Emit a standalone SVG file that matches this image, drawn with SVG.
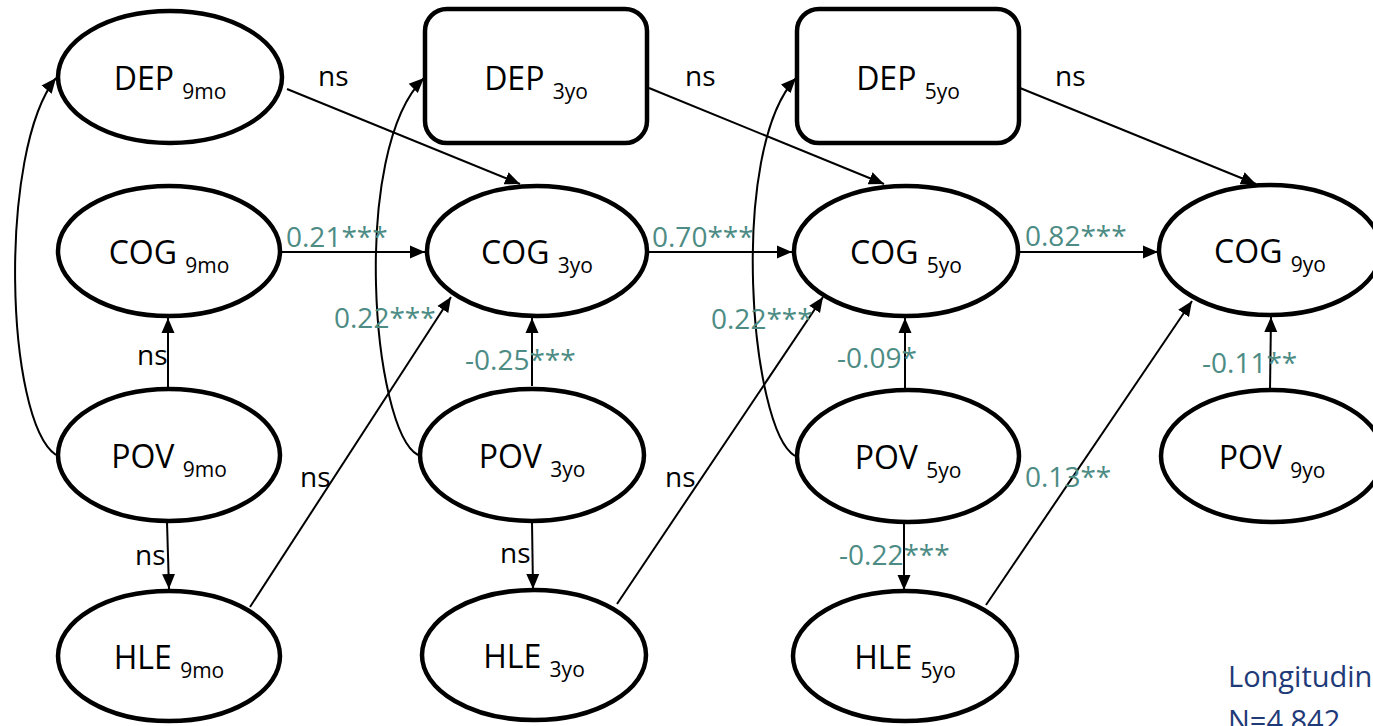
<svg xmlns="http://www.w3.org/2000/svg" width="1373" height="726" viewBox="0 0 1373 726">
<style>
.node{fill:#fff;stroke:#000;stroke-width:4.5}
.nt{font-family:"Open Sans","Liberation Sans",sans-serif;font-size:32px;fill:#000;text-anchor:middle}
.sub{font-size:21px}
.c{fill:none;stroke:#000;stroke-width:2}
.lb{font-family:"Open Sans","Liberation Sans",sans-serif;font-size:28px;fill:#000}
.g{fill:#4d8c84}
.nav{font-family:"Open Sans","Liberation Sans",sans-serif;font-size:29px;fill:#1f3a78}
</style>
<defs>
<marker id="ah" markerUnits="userSpaceOnUse" markerWidth="16" markerHeight="16" viewBox="0 0 16 16" refX="15" refY="8" orient="auto">
<path d="M0,1.5 L15,8 L0,14.5 z" fill="#000"/>
</marker>
</defs>
<rect width="1373" height="726" fill="#fff"/>
<g id="connectors">
<path class="c" marker-end="url(#ah)" d="M287 89 L520 184"/>
<path class="c" marker-end="url(#ah)" d="M649 88 L884 184"/>
<path class="c" marker-end="url(#ah)" d="M1020 88 L1256 184"/>
<path class="c" marker-end="url(#ah)" d="M282 252 L425 252"/>
<path class="c" marker-end="url(#ah)" d="M649 252 L792 252"/>
<path class="c" marker-end="url(#ah)" d="M1020 252 L1158 252"/>
<path class="c" marker-end="url(#ah)" d="M168 388 L168 318"/>
<path class="c" marker-end="url(#ah)" d="M167 522 L169 589"/>
<path class="c" marker-end="url(#ah)" d="M532 386 L532 318"/>
<path class="c" marker-end="url(#ah)" d="M532 522 L533 589"/>
<path class="c" marker-end="url(#ah)" d="M905 389 L905 318"/>
<path class="c" marker-end="url(#ah)" d="M904 523 L904 590"/>
<path class="c" marker-end="url(#ah)" d="M1270 390 L1271 317"/>
<path class="c" marker-end="url(#ah)" d="M250 607 L451 297"/>
<path class="c" marker-end="url(#ah)" d="M617 604 L823 297"/>
<path class="c" marker-end="url(#ah)" d="M986 605 L1192 301"/>
<path class="c" marker-end="url(#ah)" d="M56 455 C5 420, -2 150, 56 78"/>
<path class="c" marker-end="url(#ah)" d="M418 455 C372 430, 350 150, 424 78"/>
<path class="c" marker-end="url(#ah)" d="M795 456 C750 430, 728 150, 796 78"/>
</g>
<g id="DEP9mo"><ellipse class="node" cx="170" cy="77" rx="112" ry="66"/><text class="nt" x="170" y="90">DEP <tspan class="sub" dy="9">9mo</tspan></text></g>
<g id="COG9mo"><ellipse class="node" cx="169" cy="251" rx="111" ry="65"/><text class="nt" x="169" y="264">COG <tspan class="sub" dy="9">9mo</tspan></text></g>
<g id="POV9mo"><ellipse class="node" cx="169" cy="455" rx="111" ry="66"/><text class="nt" x="169" y="468">POV <tspan class="sub" dy="9">9mo</tspan></text></g>
<g id="HLE9mo"><ellipse class="node" cx="169" cy="656" rx="111" ry="65"/><text class="nt" x="169" y="669">HLE <tspan class="sub" dy="9">9mo</tspan></text></g>
<g id="DEP3yo"><rect class="node" x="425" y="9" width="222" height="134" rx="22"/><text class="nt" x="536" y="90">DEP <tspan class="sub" dy="9">3yo</tspan></text></g>
<g id="COG3yo"><ellipse class="node" cx="537" cy="251" rx="110" ry="65"/><text class="nt" x="537" y="264">COG <tspan class="sub" dy="9">3yo</tspan></text></g>
<g id="POV3yo"><ellipse class="node" cx="532" cy="455" rx="112" ry="66"/><text class="nt" x="532" y="468">POV <tspan class="sub" dy="9">3yo</tspan></text></g>
<g id="HLE3yo"><ellipse class="node" cx="534" cy="655" rx="112" ry="65"/><text class="nt" x="534" y="668">HLE <tspan class="sub" dy="9">3yo</tspan></text></g>
<g id="DEP5yo"><rect class="node" x="797" y="9" width="222" height="134" rx="22"/><text class="nt" x="908" y="90">DEP <tspan class="sub" dy="9">5yo</tspan></text></g>
<g id="COG5yo"><ellipse class="node" cx="906" cy="251" rx="112" ry="65"/><text class="nt" x="906" y="264">COG <tspan class="sub" dy="9">5yo</tspan></text></g>
<g id="POV5yo"><ellipse class="node" cx="908" cy="456" rx="111" ry="66"/><text class="nt" x="908" y="469">POV <tspan class="sub" dy="9">5yo</tspan></text></g>
<g id="HLE5yo"><ellipse class="node" cx="905" cy="656" rx="112" ry="65"/><text class="nt" x="905" y="669">HLE <tspan class="sub" dy="9">5yo</tspan></text></g>
<g id="COG9yo"><ellipse class="node" cx="1270" cy="250" rx="111" ry="65"/><text class="nt" x="1270" y="263">COG <tspan class="sub" dy="9">9yo</tspan></text></g>
<g id="POV9yo"><ellipse class="node" cx="1272" cy="456" rx="111" ry="66"/><text class="nt" x="1272" y="469">POV <tspan class="sub" dy="9">9yo</tspan></text></g>
<g id="labels">
<text class="lb" x="318" y="86">ns</text>
<text class="lb" x="685" y="86">ns</text>
<text class="lb" x="1055" y="86">ns</text>
<text class="lb" x="137" y="365">ns</text>
<text class="lb" x="135" y="565">ns</text>
<text class="lb" x="300" y="487">ns</text>
<text class="lb" x="665" y="487">ns</text>
<text class="lb" x="500" y="563">ns</text>
<text class="lb g" x="286" y="247">0.21***</text>
<text class="lb g" x="652" y="247">0.70***</text>
<text class="lb g" x="1025" y="246">0.82***</text>
<text class="lb g" x="334" y="328">0.22***</text>
<text class="lb g" x="711" y="329">0.22***</text>
<text class="lb g" x="465" y="370">-0.25***</text>
<text class="lb g" x="837" y="368">-0.09*</text>
<text class="lb g" x="1202" y="373">-0.11**</text>
<text class="lb g" x="1025" y="487">0.13**</text>
<text class="lb g" x="839" y="565">-0.22***</text>
<text class="nav" x="1228" y="687">Longitudinal</text>
<text class="nav" x="1228" y="731">N=4,842</text>
</g>
</svg>
